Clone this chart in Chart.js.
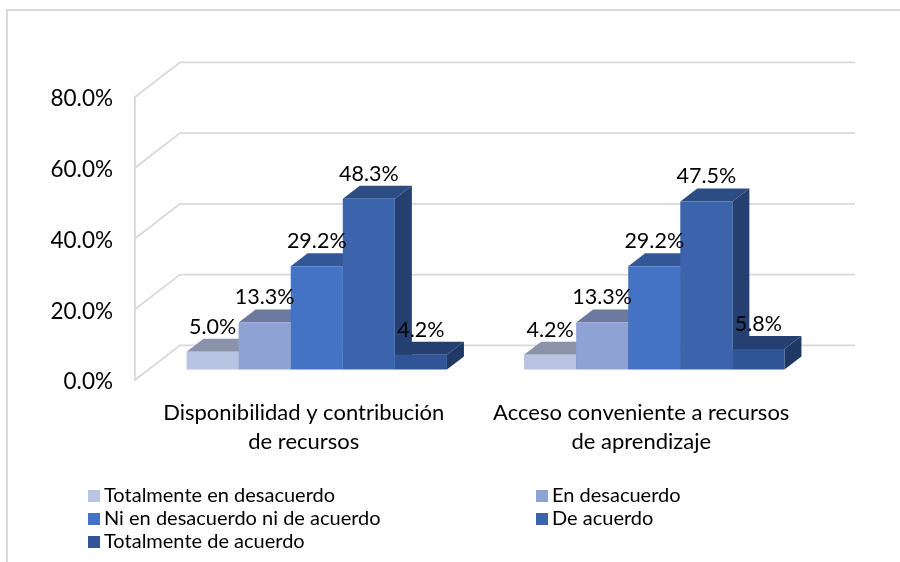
<!DOCTYPE html>
<html>
<head>
<meta charset="utf-8">
<style>html,body{margin:0;padding:0;background:#fff}canvas{display:block}</style>
<script src="https://cdn.jsdelivr.net/npm/chart.js@4"></script>
</head>
<body>
<canvas id="c" width="900" height="562"></canvas>
<script>
const categories = [["Disponibilidad y contribución","de recursos"],["Acceso conveniente a recursos","de aprendizaje"]];
const seriesNames = ["Totalmente en desacuerdo","En desacuerdo","Ni en desacuerdo ni de acuerdo","De acuerdo","Totalmente de acuerdo"];
const totalmenteDesacuerdo = [5.0,4.2];
const enDesacuerdo = [13.3,13.3];
const niNi = [29.2,29.2];
const deAcuerdo = [48.3,47.5];
const totalmenteAcuerdo = [4.2,5.8];
const frontColors = ["#B9C3E2","#8FA2D4","#4472C4","#3B64AD","#2F5597"];
const topColors = ["#8B93AB","#6C7AA1","#335796","#2C4C84","#253F70"];
const sideColors = ["#737B90","#5A6688","#2A4880","#253F70","#1F3864"];
const FONT = "Lato";
const TEXT = "#000000";
const GRID = "#D9D9D9";
const allValues = [totalmenteDesacuerdo,enDesacuerdo,niNi,deAcuerdo,totalmenteAcuerdo];

const threeD = {
  id:"threeD",
  beforeDraw(chart){
    const ctx=chart.ctx;
    ctx.save();
    ctx.fillStyle="#fff";ctx.fillRect(0,0,900,562);
    ctx.strokeStyle=GRID;ctx.lineWidth=1.8;
    ctx.beginPath();ctx.moveTo(7,562);ctx.lineTo(7,10);ctx.lineTo(900,10);ctx.stroke();
    const y=chart.scales.y,a=chart.chartArea;
    y.ticks.forEach(t=>{
      const p=y.getPixelForValue(t.value);
      ctx.beginPath();ctx.moveTo(a.left,p);ctx.lineTo(a.left+45,p-34.7);ctx.lineTo(a.right+45,p-34.7);ctx.stroke();
    });
    ctx.restore();
    // the reference prints its value-axis labels slightly below the tick position
    y.getLabelItems(a).forEach(it=>{it.options.translation=[it.options.translation[0],it.options.translation[1]+2];});
  },
  beforeDatasetDraw(){return false;},
  afterDatasetsDraw(chart){
    const ctx=chart.ctx,n=chart.data.datasets.length;
    const ox=13,oy=-10.5,dx=17,dy=-13;
    for(let i=0;i<n;i++){
      const meta=chart.getDatasetMeta(i);
      ctx.save();
      ctx.translate(ox,oy);
      meta.data.forEach(b=>{
        const l=b.x-b.width/2,r=b.x+b.width/2;
        ctx.fillStyle=sideColors[i];
        ctx.beginPath();ctx.moveTo(r,b.y);ctx.lineTo(r+dx,b.y+dy);ctx.lineTo(r+dx,b.base+dy);ctx.lineTo(r,b.base);ctx.closePath();ctx.fill();
        ctx.fillStyle=topColors[i];
        ctx.beginPath();ctx.moveTo(l,b.y);ctx.lineTo(l+dx,b.y+dy);ctx.lineTo(r+dx,b.y+dy);ctx.lineTo(r,b.y);ctx.closePath();ctx.fill();
      });
      meta.controller.draw();
      ctx.restore();
    }
    ctx.save();
    ctx.fillStyle=TEXT;ctx.font="21.5px "+FONT;ctx.textAlign="center";ctx.textBaseline="middle";
    for(let i=0;i<n;i++){
      chart.getDatasetMeta(i).data.forEach((b,j)=>{
        ctx.fillText(allValues[i][j].toFixed(1)+"%",b.x+ox,b.y+oy-25);
      });
    }
    ctx.restore();
  },
  afterDraw(chart){
    const ctx=chart.ctx;
    const pos=[[88,496],[536,496],[88,519],[536,519],[88,542]];
    ctx.save();
    ctx.font="20px "+FONT;ctx.textBaseline="middle";ctx.textAlign="left";
    seriesNames.forEach((s,i)=>{
      ctx.fillStyle=frontColors[i];ctx.fillRect(pos[i][0],pos[i][1]-6,12,12);
      ctx.fillStyle=TEXT;ctx.fillText(s,pos[i][0]+16,pos[i][1]);
    });
    ctx.restore();
  }
};

new Chart(document.getElementById("c"),{
  type:"bar",
  data:{labels:categories,datasets:seriesNames.map((s,i)=>({
    label:s,data:allValues[i],backgroundColor:frontColors[i],borderWidth:0,
    categoryPercentage:0.7715,barPercentage:1
  }))},
  options:{
    responsive:false,animation:false,
    layout:{padding:{top:97,left:0,right:90,bottom:0}},
    plugins:{legend:{display:false},tooltip:{enabled:false},title:{display:false}},
    scales:{
      x:{
        grid:{display:false},border:{display:false},
        ticks:{color:TEXT,font:{family:FONT,size:22,lineHeight:1.32},padding:10,maxRotation:0,autoSkip:false},
        afterFit(s){s.height=182;}
      },
      y:{
        min:0,max:80,
        grid:{display:false,drawTicks:false},
        border:{display:true,color:GRID,width:1.8},
        ticks:{stepSize:20,color:TEXT,font:{family:FONT,size:22.5},padding:22,callback:v=>v.toFixed(1)+"%"},
        afterFit(s){s.width=135;}
      }
    }
  },
  plugins:[threeD]
});
</script>
</body>
</html>
